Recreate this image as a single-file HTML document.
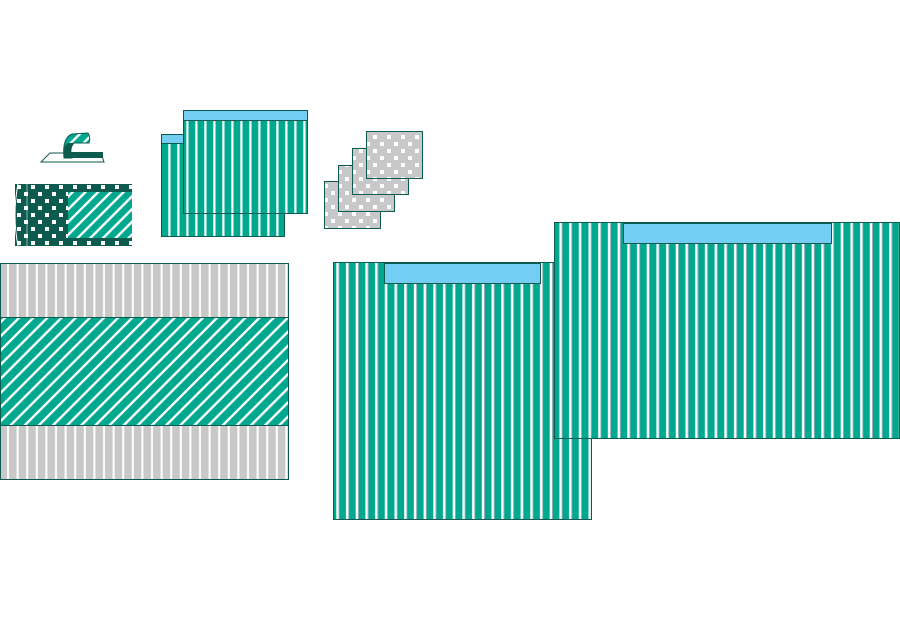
<!DOCTYPE html>
<html><head><meta charset="utf-8"><style>html,body{margin:0;padding:0;background:#fff;width:900px;height:631px;overflow:hidden}</style></head>
<body>
<svg width="900" height="631" viewBox="0 0 900 631" xmlns="http://www.w3.org/2000/svg">
<defs>
<pattern id="vt" width="9.7" height="10" patternUnits="userSpaceOnUse">
<rect width="9.7" height="10" fill="#00a890"/><rect x="6.5" width="2.4" height="10" fill="#fff"/><rect x="8.9" width="0.8" height="10" fill="#9ab"/>
</pattern>
<pattern id="vs" width="9" height="10" patternUnits="userSpaceOnUse">
<rect width="9" height="10" fill="#00a890"/><rect x="6.3" width="2.2" height="10" fill="#fff"/>
</pattern>
<pattern id="vg" width="9.6" height="10" patternUnits="userSpaceOnUse">
<rect width="9.6" height="10" fill="#c8c8c8"/><rect x="7" width="2" height="10" fill="#fff"/>
</pattern>
<pattern id="dg" width="10" height="10" patternUnits="userSpaceOnUse" patternTransform="rotate(45)">
<rect width="10" height="10" fill="#00a890"/><rect x="7" width="2.4" height="10" fill="#fff"/>
</pattern>
<pattern id="dg2" width="9" height="9" patternUnits="userSpaceOnUse" patternTransform="rotate(45)">
<rect width="9" height="9" fill="#00a890"/><rect x="6" width="2.4" height="9" fill="#fff"/>
</pattern>
<pattern id="dots" width="14" height="14" patternUnits="userSpaceOnUse">
<rect width="14" height="14" fill="#c8c8c8"/><rect x="2" y="2" width="4" height="4" fill="#fff"/><rect x="9" y="9" width="4" height="4" fill="#fff"/>
</pattern>
<pattern id="ddots" width="14" height="14" patternUnits="userSpaceOnUse">
<rect width="14" height="14" fill="#0d5a4e"/><rect x="3" y="3" width="4" height="4" fill="#fff"/><rect x="10" y="10" width="4" height="4" fill="#fff"/>
</pattern>
</defs>

<!-- left big block -->
<rect x="0.5" y="263.5" width="288" height="54" fill="url(#vg)" stroke="#0d5a4e"/>
<rect x="0.5" y="317.5" width="288" height="108" fill="url(#dg)" stroke="#0d5a4e"/>
<rect x="0.5" y="425.5" width="288" height="54" fill="url(#vg)" stroke="#0d5a4e"/>

<!-- big right rects -->
<rect x="333.5" y="262.5" width="258" height="257" fill="url(#vt)" stroke="#0d5a4e"/>
<rect x="384.5" y="263.5" width="156" height="20" fill="#74cdf2" stroke="#0d5a4e"/>
<rect x="554.5" y="222.5" width="345" height="216" fill="url(#vt)" stroke="#0d5a4e"/>
<rect x="623.5" y="223.5" width="208" height="20" fill="#74cdf2" stroke="#0d5a4e"/>

<!-- small stacked sheets -->
<rect x="161.5" y="134.5" width="123" height="102" fill="url(#vs)" stroke="#0d5a4e"/>
<rect x="161.5" y="134.5" width="22" height="9" fill="#74cdf2" stroke="#0d5a4e"/>
<rect x="183.5" y="110.5" width="124" height="103" fill="url(#vs)" stroke="#0d5a4e"/>
<rect x="183.5" y="110.5" width="124" height="10" fill="#74cdf2" stroke="#0d5a4e"/>

<!-- dotted squares -->
<rect x="324.5" y="181.5" width="56" height="47" fill="url(#dots)" stroke="#0d5a4e"/>
<rect x="338.5" y="165.5" width="56" height="46" fill="url(#dots)" stroke="#0d5a4e"/>
<rect x="352.5" y="148.5" width="56" height="46" fill="url(#dots)" stroke="#0d5a4e"/>
<rect x="366.5" y="131.5" width="56" height="47" fill="url(#dots)" stroke="#0d5a4e"/>

<!-- roll -->
<rect x="15" y="184" width="117" height="62" fill="url(#ddots)"/>
<rect x="68" y="192" width="64" height="46" fill="url(#dg2)"/>
<path d="M18 184 Q12 215 18 246" stroke="#fff" fill="none" stroke-width="1"/>
<path d="M27 184 L27 246" stroke="#fff" fill="none" stroke-width="0.8" opacity="0.7"/>

<!-- iron icon -->
<polygon points="41,162 104,162 101,153 50,153" fill="#fff" stroke="#0d5a4e"/>
<rect x="70" y="152" width="33" height="6" fill="#0d5a4e"/>
<path d="M64 158 Q62 138 72 134 L88 133 Q91 138 89 143 L74 143 Q69 148 72 158 Z" fill="url(#dg2)" stroke="#0d5a4e"/>
<path d="M64 158 Q62 147 68 143 L74 143 Q69 148 72 158 Z" fill="#0d5a4e"/>
</svg>
</body></html>
